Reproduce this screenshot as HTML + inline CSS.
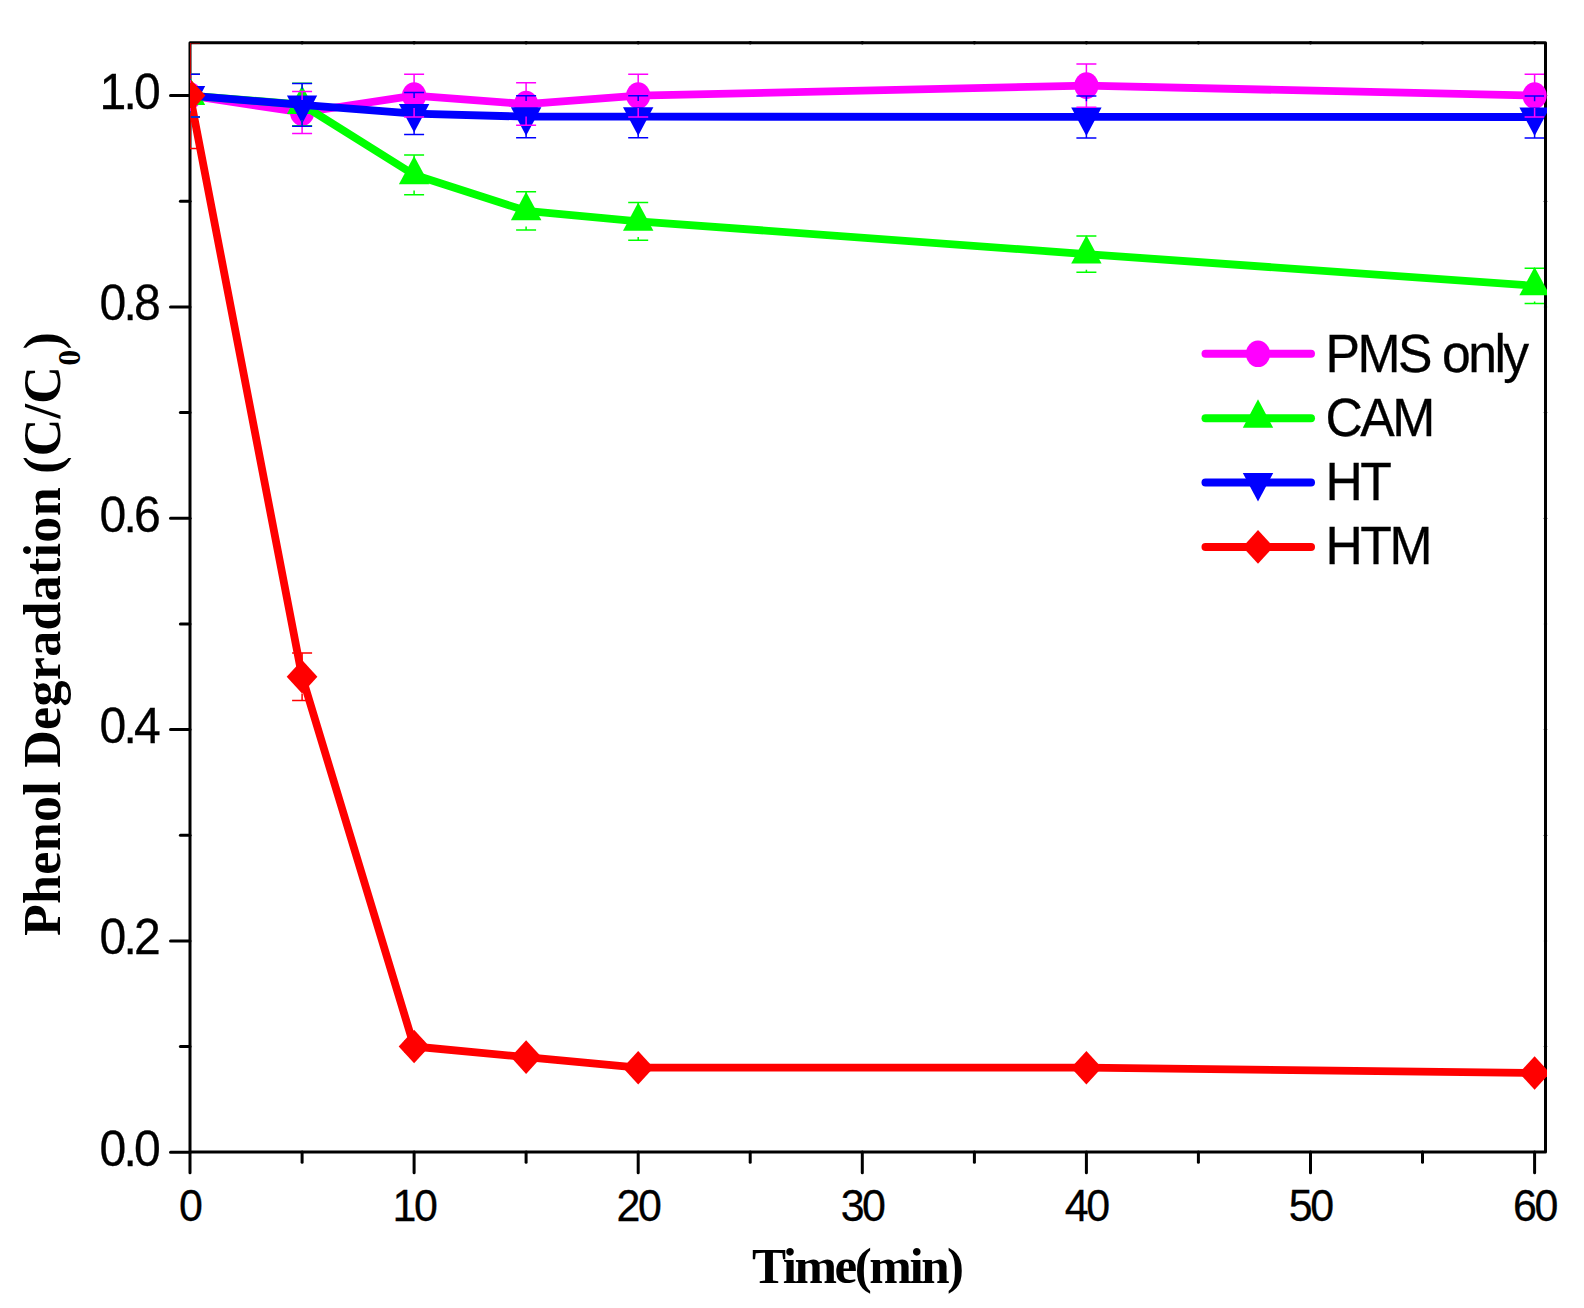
<!DOCTYPE html>
<html lang="en"><head><meta charset="utf-8"><title>Phenol Degradation</title>
<style>
html,body{margin:0;padding:0;background:#fff;}
body{width:1584px;height:1308px;overflow:hidden;}
svg{display:block;}
.sans{font-family:"Liberation Sans",sans-serif;fill:#000;stroke:#000;stroke-width:0.3px;}
.serif{font-family:"Liberation Serif",serif;font-weight:bold;fill:#000;}
</style></head><body>
<svg width="1584" height="1308" viewBox="0 0 1584 1308">
<rect width="1584" height="1308" fill="#fff"/>
<defs><clipPath id="cp"><rect x="190.0" y="41.2" width="1357.0" height="1112.2"/></clipPath>
<clipPath id="cpe"><rect x="190.0" y="43.2" width="1354.0" height="1109.2"/></clipPath></defs>
<g stroke="#000" stroke-width="3" fill="none" stroke-linecap="round">
<rect x="190.0" y="42.7" width="1355.5" height="1109.2" stroke-linejoin="round"/>
<line x1="190.0" y1="1151.9" x2="190.0" y2="1172.7"/>
<line x1="302.1" y1="1151.9" x2="302.1" y2="1162.3000000000002"/>
<line x1="414.1" y1="1151.9" x2="414.1" y2="1172.7"/>
<line x1="526.1" y1="1151.9" x2="526.1" y2="1162.3000000000002"/>
<line x1="638.2" y1="1151.9" x2="638.2" y2="1172.7"/>
<line x1="750.2" y1="1151.9" x2="750.2" y2="1162.3000000000002"/>
<line x1="862.3" y1="1151.9" x2="862.3" y2="1172.7"/>
<line x1="974.4" y1="1151.9" x2="974.4" y2="1162.3000000000002"/>
<line x1="1086.4" y1="1151.9" x2="1086.4" y2="1172.7"/>
<line x1="1198.4" y1="1151.9" x2="1198.4" y2="1162.3000000000002"/>
<line x1="1310.5" y1="1151.9" x2="1310.5" y2="1172.7"/>
<line x1="1422.5" y1="1151.9" x2="1422.5" y2="1162.3000000000002"/>
<line x1="1534.6" y1="1151.9" x2="1534.6" y2="1172.7"/>
<line x1="190.0" y1="1152.2" x2="170.5" y2="1152.2"/>
<line x1="190.0" y1="1046.5" x2="180.4" y2="1046.5"/>
<line x1="190.0" y1="940.9" x2="170.5" y2="940.9"/>
<line x1="190.0" y1="835.2" x2="180.4" y2="835.2"/>
<line x1="190.0" y1="729.6" x2="170.5" y2="729.6"/>
<line x1="190.0" y1="623.9" x2="180.4" y2="623.9"/>
<line x1="190.0" y1="518.2" x2="170.5" y2="518.2"/>
<line x1="190.0" y1="412.6" x2="180.4" y2="412.6"/>
<line x1="190.0" y1="306.9" x2="170.5" y2="306.9"/>
<line x1="190.0" y1="201.3" x2="180.4" y2="201.3"/>
<line x1="190.0" y1="95.6" x2="170.5" y2="95.6"/>
<circle cx="302.1" cy="42.7" r="1.8" fill="#000" stroke="none"/>
<circle cx="414.1" cy="42.7" r="1.8" fill="#000" stroke="none"/>
<circle cx="526.1" cy="42.7" r="1.8" fill="#000" stroke="none"/>
<circle cx="638.2" cy="42.7" r="1.8" fill="#000" stroke="none"/>
<circle cx="750.2" cy="42.7" r="1.8" fill="#000" stroke="none"/>
<circle cx="862.3" cy="42.7" r="1.8" fill="#000" stroke="none"/>
<circle cx="974.4" cy="42.7" r="1.8" fill="#000" stroke="none"/>
<circle cx="1086.4" cy="42.7" r="1.8" fill="#000" stroke="none"/>
<circle cx="1198.4" cy="42.7" r="1.8" fill="#000" stroke="none"/>
<circle cx="1310.5" cy="42.7" r="1.8" fill="#000" stroke="none"/>
<circle cx="1422.5" cy="42.7" r="1.8" fill="#000" stroke="none"/>
<circle cx="1534.6" cy="42.7" r="1.8" fill="#000" stroke="none"/>
<circle cx="1545.5" cy="1046.5" r="1.7" fill="#000" stroke="none"/>
<circle cx="1545.5" cy="940.9" r="1.7" fill="#000" stroke="none"/>
<circle cx="1545.5" cy="835.2" r="1.7" fill="#000" stroke="none"/>
<circle cx="1545.5" cy="729.6" r="1.7" fill="#000" stroke="none"/>
<circle cx="1545.5" cy="623.9" r="1.7" fill="#000" stroke="none"/>
<circle cx="1545.5" cy="518.2" r="1.7" fill="#000" stroke="none"/>
<circle cx="1545.5" cy="412.6" r="1.7" fill="#000" stroke="none"/>
<circle cx="1545.5" cy="306.9" r="1.7" fill="#000" stroke="none"/>
<circle cx="1545.5" cy="201.3" r="1.7" fill="#000" stroke="none"/>
<circle cx="1545.5" cy="95.6" r="1.7" fill="#000" stroke="none"/>
</g>
<g clip-path="url(#cp)">
<polyline points="190.0,95.6 302.1,112.5 414.1,95.6 526.1,104.1 638.2,95.6 1086.4,85.6 1534.6,95.6" fill="none" stroke="#ff00ff" stroke-width="7.8" stroke-linejoin="round"/>
<ellipse cx="190.0" cy="95.6" rx="12.1" ry="13.3" fill="#ff00ff"/>
<ellipse cx="302.1" cy="112.5" rx="12.1" ry="13.3" fill="#ff00ff"/>
<ellipse cx="414.1" cy="95.6" rx="12.1" ry="13.3" fill="#ff00ff"/>
<ellipse cx="526.1" cy="104.1" rx="12.1" ry="13.3" fill="#ff00ff"/>
<ellipse cx="638.2" cy="95.6" rx="12.1" ry="13.3" fill="#ff00ff"/>
<ellipse cx="1086.4" cy="85.6" rx="12.1" ry="13.3" fill="#ff00ff"/>
<ellipse cx="1534.6" cy="95.6" rx="12.1" ry="13.3" fill="#ff00ff"/>
<polyline points="190.0,95.6 302.1,104.6 414.1,174.8 526.1,210.8 638.2,221.3 1086.4,254.1 1534.6,285.8" fill="none" stroke="#00ff00" stroke-width="7.8" stroke-linejoin="round"/>
<polygon points="174.8,105.1 205.2,105.1 190.0,76.7" fill="#00ff00"/>
<polygon points="286.9,114.0 317.2,114.0 302.1,85.6" fill="#00ff00"/>
<polygon points="398.9,184.3 429.3,184.3 414.1,155.9" fill="#00ff00"/>
<polygon points="510.9,220.2 541.4,220.2 526.1,191.8" fill="#00ff00"/>
<polygon points="623.0,230.8 653.4,230.8 638.2,202.4" fill="#00ff00"/>
<polygon points="1071.2,263.6 1101.6,263.6 1086.4,235.2" fill="#00ff00"/>
<polygon points="1519.4,295.3 1549.8,295.3 1534.6,266.9" fill="#00ff00"/>
<polyline points="190.0,95.6 302.1,104.9 414.1,113.6 526.1,116.7 638.2,116.7 1086.4,116.9 1534.6,117.0" fill="none" stroke="#0000ff" stroke-width="7.8" stroke-linejoin="round"/>
<polygon points="174.8,86.1 205.2,86.1 190.0,114.5" fill="#0000ff"/>
<polygon points="286.9,95.4 317.2,95.4 302.1,123.8" fill="#0000ff"/>
<polygon points="398.9,104.1 429.3,104.1 414.1,132.5" fill="#0000ff"/>
<polygon points="510.9,107.3 541.4,107.3 526.1,135.7" fill="#0000ff"/>
<polygon points="623.0,107.3 653.4,107.3 638.2,135.7" fill="#0000ff"/>
<polygon points="1071.2,107.5 1101.6,107.5 1086.4,135.9" fill="#0000ff"/>
<polygon points="1519.4,107.6 1549.8,107.6 1534.6,136.0" fill="#0000ff"/>
<polyline points="190.0,95.6 302.1,676.7 414.1,1046.5 526.1,1057.1 638.2,1067.7 1086.4,1067.7 1534.6,1073.0" fill="none" stroke="#ff0000" stroke-width="7.8" stroke-linejoin="round"/>
<polygon points="174.6,95.6 190.0,78.8 205.4,95.6 190.0,112.4" fill="#ff0000"/>
<polygon points="286.7,676.7 302.1,659.9 317.4,676.7 302.1,693.5" fill="#ff0000"/>
<polygon points="398.7,1046.5 414.1,1029.7 429.5,1046.5 414.1,1063.3" fill="#ff0000"/>
<polygon points="510.8,1057.1 526.1,1040.3 541.5,1057.1 526.1,1073.9" fill="#ff0000"/>
<polygon points="622.8,1067.7 638.2,1050.9 653.6,1067.7 638.2,1084.5" fill="#ff0000"/>
<polygon points="1071.0,1067.7 1086.4,1050.9 1101.8,1067.7 1086.4,1084.5" fill="#ff0000"/>
<polygon points="1519.2,1073.0 1534.6,1056.2 1550.0,1073.0 1534.6,1089.8" fill="#ff0000"/>
</g>
<g clip-path="url(#cpe)" stroke-width="1.5" fill="none">
<path d="M190.0,74.2V83.1M190.0,108.1V117.0M180.0,74.2h20M180.0,117.0h20M302.1,91.4V100.0M302.1,125.0V133.6M292.1,91.4h20M292.1,133.6h20M414.1,74.2V83.1M414.1,108.1V117.0M404.1,74.2h20M404.1,117.0h20M526.1,82.8V91.6M526.1,116.6V125.3M516.1,82.8h20M516.1,125.3h20M638.2,74.2V83.1M638.2,108.1V117.0M628.2,74.2h20M628.2,117.0h20M1086.4,63.9V73.1M1086.4,98.1V107.2M1076.4,63.9h20M1076.4,107.2h20M1534.6,74.2V83.1M1534.6,108.1V117.0M1524.6,74.2h20M1524.6,117.0h20" stroke="#ff00ff"/>
<path d="M190.0,74.2V79.9M190.0,111.3V117.0M180.0,74.2h20M180.0,117.0h20M302.1,83.3V88.9M302.1,120.3V125.8M292.1,83.3h20M292.1,125.8h20M414.1,155.0V159.1M414.1,190.5V194.7M404.1,155.0h20M404.1,194.7h20M526.1,191.7V195.1M526.1,226.5V229.9M516.1,191.7h20M516.1,229.9h20M638.2,202.4V205.6M638.2,237.0V240.2M628.2,202.4h20M628.2,240.2h20M1086.4,235.9V238.4M1086.4,269.8V272.3M1076.4,235.9h20M1076.4,272.3h20M1534.6,268.2V270.1M1534.6,301.5V303.4M1524.6,268.2h20M1524.6,303.4h20" stroke="#00ff00"/>
<path d="M190.0,74.2V79.9M190.0,111.3V117.0M180.0,74.2h20M180.0,117.0h20M302.1,83.6V89.2M302.1,120.6V126.2M292.1,83.6h20M292.1,126.2h20M414.1,92.5V97.9M414.1,129.3V134.6M404.1,92.5h20M404.1,134.6h20M526.1,95.7V101.0M526.1,132.4V137.8M516.1,95.7h20M516.1,137.8h20M638.2,95.7V101.0M638.2,132.4V137.8M628.2,95.7h20M628.2,137.8h20M1086.4,95.9V101.2M1086.4,132.6V138.0M1076.4,95.9h20M1076.4,138.0h20M1534.6,96.0V101.3M1534.6,132.7V138.1M1524.6,96.0h20M1524.6,138.1h20" stroke="#0000ff"/>
<path d="M190.0,42.8V78.8M190.0,112.4V148.4M180.0,42.8h20M180.0,148.4h20M302.1,653.0V659.9M302.1,693.5V700.5M292.1,653.0h20M292.1,700.5h20M404.1,1041.3h20M404.1,1051.8h20M516.1,1052.4h20M516.1,1061.9h20M628.2,1063.4h20M628.2,1071.9h20M1076.4,1063.4h20M1076.4,1071.9h20M1524.6,1069.0h20M1524.6,1076.9h20" stroke="#ff0000"/>
</g>
<line x1="1205.5" y1="353.8" x2="1311" y2="353.8" stroke="#ff00ff" stroke-width="8" stroke-linecap="round"/>
<ellipse cx="1258.0" cy="353.8" rx="12.1" ry="13.3" fill="#ff00ff"/>
<line x1="1205.5" y1="418.2" x2="1311" y2="418.2" stroke="#00ff00" stroke-width="8" stroke-linecap="round"/>
<polygon points="1242.8,427.7 1273.2,427.7 1258.0,399.3" fill="#00ff00"/>
<line x1="1205.5" y1="482.5" x2="1311" y2="482.5" stroke="#0000ff" stroke-width="8" stroke-linecap="round"/>
<polygon points="1242.8,473.0 1273.2,473.0 1258.0,501.4" fill="#0000ff"/>
<line x1="1205.5" y1="546.9" x2="1311" y2="546.9" stroke="#ff0000" stroke-width="8" stroke-linecap="round"/>
<polygon points="1242.6,546.9 1258.0,530.1 1273.4,546.9 1258.0,563.7" fill="#ff0000"/>
<text class="sans" transform="translate(1325.5,371.9) scale(0.961,1)" font-size="53.8" letter-spacing="-2.6">PMS only</text>
<text class="sans" transform="translate(1325.5,436.3) scale(0.961,1)" font-size="53.8" letter-spacing="-2.6">CAM</text>
<text class="sans" transform="translate(1325.5,500.3) scale(0.961,1)" font-size="53.8" letter-spacing="-2.6">HT</text>
<text class="sans" transform="translate(1325.5,563.7) scale(0.961,1)" font-size="53.8" letter-spacing="-2.6">HTM</text>
<text class="sans" text-anchor="end" transform="translate(158.0,1165.6) scale(0.957,1)" font-size="50.3" letter-spacing="-2.9">0.0</text>
<text class="sans" text-anchor="end" transform="translate(158.0,954.3) scale(0.957,1)" font-size="50.3" letter-spacing="-2.9">0.2</text>
<text class="sans" text-anchor="end" transform="translate(158.0,743.0) scale(0.957,1)" font-size="50.3" letter-spacing="-2.9">0.4</text>
<text class="sans" text-anchor="end" transform="translate(158.0,531.6) scale(0.957,1)" font-size="50.3" letter-spacing="-2.9">0.6</text>
<text class="sans" text-anchor="end" transform="translate(158.0,320.3) scale(0.957,1)" font-size="50.3" letter-spacing="-2.9">0.8</text>
<text class="sans" text-anchor="end" transform="translate(158.0,109.0) scale(0.957,1)" font-size="50.3" letter-spacing="-2.9">1.0</text>
<text class="sans" text-anchor="middle" transform="translate(189.8,1221) scale(0.963,1)" font-size="44.6" letter-spacing="-2.55">0</text>
<text class="sans" text-anchor="middle" transform="translate(413.9,1221) scale(0.963,1)" font-size="44.6" letter-spacing="-2.55">10</text>
<text class="sans" text-anchor="middle" transform="translate(638.0,1221) scale(0.963,1)" font-size="44.6" letter-spacing="-2.55">20</text>
<text class="sans" text-anchor="middle" transform="translate(862.1,1221) scale(0.963,1)" font-size="44.6" letter-spacing="-2.55">30</text>
<text class="sans" text-anchor="middle" transform="translate(1086.2,1221) scale(0.963,1)" font-size="44.6" letter-spacing="-2.55">40</text>
<text class="sans" text-anchor="middle" transform="translate(1310.3,1221) scale(0.963,1)" font-size="44.6" letter-spacing="-2.55">50</text>
<text class="sans" text-anchor="middle" transform="translate(1534.4,1221) scale(0.963,1)" font-size="44.6" letter-spacing="-2.55">60</text>
<text class="serif" text-anchor="middle" transform="translate(856.8,1283.2)" font-size="51.1" letter-spacing="-2.45">Time(min)</text>
<text class="serif" transform="translate(60,936) rotate(-90)" font-size="52" letter-spacing="0.3">Phenol Degradation (C/C<tspan font-size="32" dy="19.5">0</tspan><tspan dy="-19.5">)</tspan></text>
</svg></body></html>
